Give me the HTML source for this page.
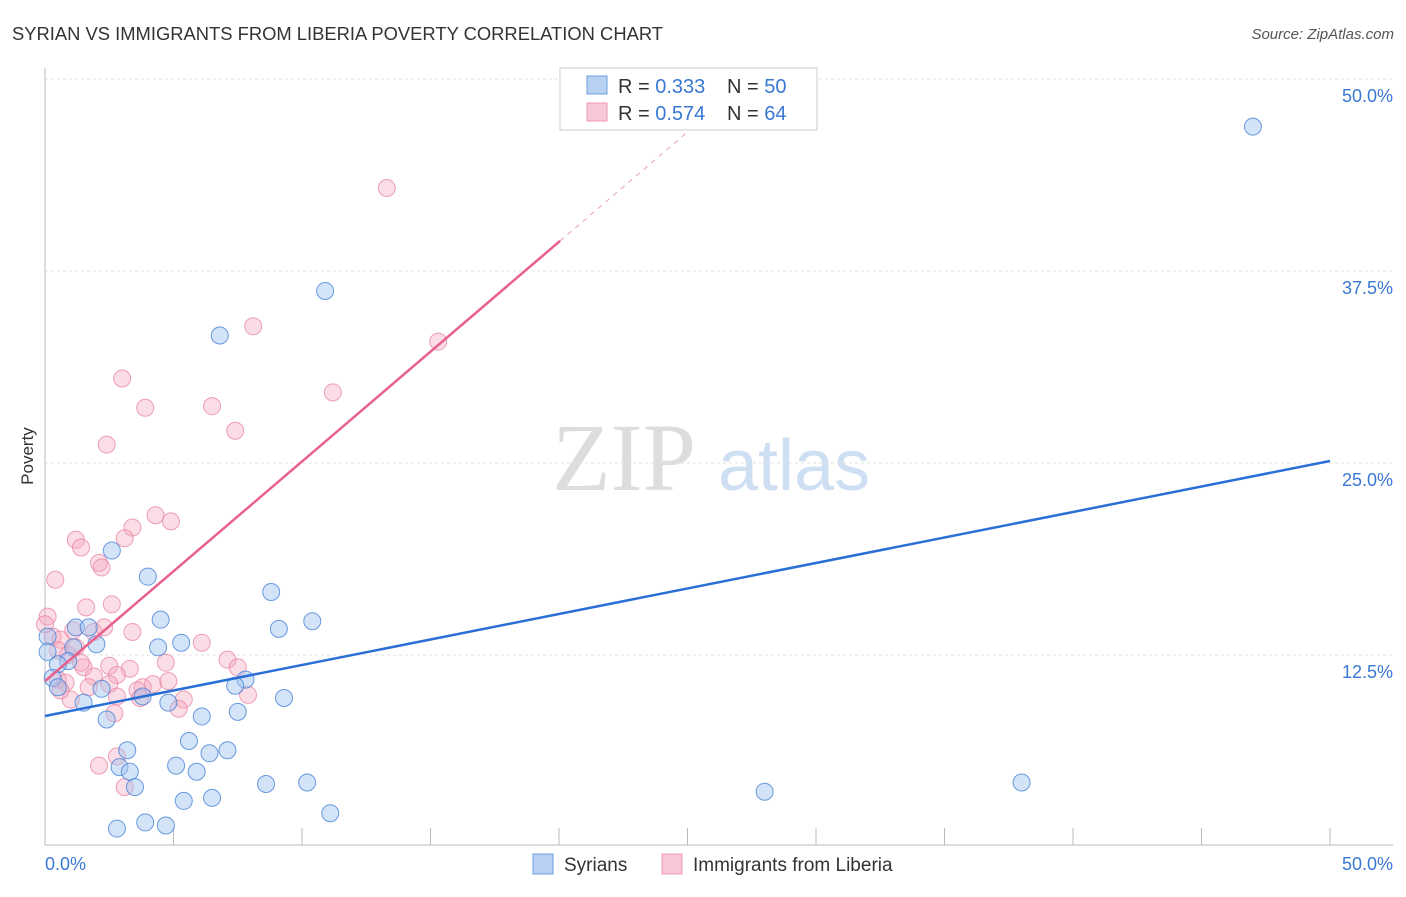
<!DOCTYPE html>
<html><head><meta charset="utf-8"><style>
body{margin:0;background:#fff;font-family:"Liberation Sans",sans-serif;}
</style></head><body>
<svg id="c" width="1406" height="892" xmlns="http://www.w3.org/2000/svg" style="font-family:'Liberation Sans',sans-serif">
<text x="12" y="40" font-size="18" fill="#333" textLength="651" lengthAdjust="spacingAndGlyphs">SYRIAN VS IMMIGRANTS FROM LIBERIA POVERTY CORRELATION CHART</text>
<text x="1394" y="39" font-size="15" fill="#555" font-style="italic" text-anchor="end">Source: ZipAtlas.com</text>
<text x="33" y="456" font-size="17" fill="#333" transform="rotate(-90 33 456)" text-anchor="middle">Poverty</text>
<g>
<text x="552" y="490" font-size="96" font-family="'Liberation Serif',serif" fill="#ddd">ZIP</text>
<text x="718" y="490" font-size="72" fill="#cfdff3">atlas</text>
</g>
<g id="grid"></g><g id="pts"></g><g id="lines"></g>
<g>
<rect x="560" y="68" width="257" height="62" fill="#fff" stroke="#ccc"/>
<rect x="587" y="76" width="20" height="18" fill="#b8d1f3" stroke="#6d9ee0"/>
<rect x="587" y="103" width="20" height="18" fill="#f9c8d6" stroke="#ec9ab4"/>
<text x="618" y="93" font-size="20" fill="#333">R = <tspan fill="#3a78d4">0.333</tspan></text>
<text x="727" y="93" font-size="20" fill="#333">N = <tspan fill="#3a78d4">50</tspan></text>
<text x="618" y="120" font-size="20" fill="#333">R = <tspan fill="#3a78d4">0.574</tspan></text>
<text x="727" y="120" font-size="20" fill="#333">N = <tspan fill="#3a78d4">64</tspan></text>
</g>
<g>
<rect x="533" y="854" width="20" height="20" fill="#b8d1f3" stroke="#6d9ee0"/>
<text x="564" y="871" font-size="19" fill="#333">Syrians</text>
<rect x="662" y="854" width="20" height="20" fill="#f9c8d6" stroke="#ec9ab4"/>
<text x="693" y="871" font-size="19" fill="#333">Immigrants from Liberia</text>
</g>
</svg>
<script>
const yTicks=[12.5,25,37.5,50];
const yTickLabels=["12.5%","25.0%","37.5%","50.0%"];
const xTickLabels=["0.0%","50.0%"];
const syrX=[47.0,10.9,6.8,2.6,4.0,8.8,4.5,10.4,9.1,1.2,1.7,5.3,2.0,4.4,1.1,0.9,0.5,7.8,7.4,0.3,0.5,2.2,3.8,9.3,4.8,1.5,7.5,6.1,2.4,5.6,3.2,7.1,6.4,2.9,3.3,5.1,5.9,3.5,8.6,10.2,38.0,28.0,5.4,6.5,11.1,3.9,4.7,2.8,0.1,0.1];
const syrY=[46.9,36.2,33.3,19.3,17.6,16.6,14.8,14.7,14.2,14.3,14.3,13.3,13.2,13.0,13.0,12.1,11.9,10.9,10.5,11.0,10.4,10.3,9.8,9.7,9.4,9.4,8.8,8.5,8.3,6.9,6.3,6.3,6.1,5.2,4.9,5.3,4.9,3.9,4.1,4.2,4.2,3.6,3.0,3.2,2.2,1.6,1.4,1.2,13.7,12.7];
const libX=[13.3,8.1,15.3,3.0,11.2,3.9,6.5,7.4,2.4,4.3,4.9,3.4,3.1,1.2,1.4,2.1,2.2,0.4,2.6,1.6,0.1,1.9,3.4,1.1,2.3,0.3,6.1,0.6,0.5,0.9,2.5,4.7,7.1,7.5,3.3,1.5,2.8,1.9,0.5,0.8,2.5,1.7,4.2,3.8,4.8,2.8,5.4,1.0,7.9,5.2,2.7,2.8,2.1,3.1,0.0,1.2,1.4,0.6,3.6,3.7];
const libY=[42.9,33.9,32.9,30.5,29.6,28.6,28.7,27.1,26.2,21.6,21.2,20.8,20.1,20.0,19.5,18.5,18.2,17.4,15.8,15.6,15.0,14.0,14.0,14.1,14.3,13.7,13.3,13.5,12.8,12.5,11.8,12.0,12.2,11.7,11.6,11.7,11.2,11.1,10.9,10.7,10.6,10.4,10.6,10.4,10.8,9.8,9.6,9.6,9.9,9.0,8.7,5.9,5.3,3.9,14.5,13.0,12.0,10.2,10.2,9.7];
const syrLine=[8.53,25.13];
const libLine=[10.8,1.43];
const X=v=>45+v*25.7, Y=v=>847-v*15.36;
const NS="http://www.w3.org/2000/svg";
function mk(t,a,p){const e=document.createElementNS(NS,t);for(const k in a)e.setAttribute(k,a[k]);p.appendChild(e);return e;}
const grid=document.getElementById('grid'),pts=document.getElementById('pts'),lines=document.getElementById('lines');
yTicks.forEach((t,i)=>{
 const l=mk('line',{x1:45,x2:1393,y1:Y(t),y2:Y(t),stroke:'#e2e2e2','stroke-dasharray':'3,3'},grid);
 
 
 const tx=mk('text',{x:1393,y:Y(t)+23,'font-size':18,fill:'#3a78d4','text-anchor':'end'},grid);
 tx.textContent=yTickLabels[i];
 
 
});
const ax=mk('line',{x1:45,x2:45,y1:68,y2:845,stroke:'#bbb'},grid);


const bx=mk('line',{x1:45,x2:1393,y1:845,y2:845,stroke:'#bbb'},grid);


for(let i=1;i<=10;i++){const t=mk('line',{x1:X(i*5),x2:X(i*5),y1:828,y2:845,stroke:'#bbb'},grid);
 
 }
[[0,'start',45],[50,'end',1393]].forEach((d,i)=>{const t=mk('text',{x:d[2],y:870,'font-size':18,fill:'#3a78d4','text-anchor':d[1]},grid);t.textContent=xTickLabels[i];
 
 });
libX.forEach((x,i)=>{const c=mk('circle',{cx:X(x),cy:Y(libY[i]),r:8.5,fill:'rgba(246,170,192,0.4)',stroke:'rgba(232,130,160,0.75)','stroke-width':1},pts);
 
 });
syrX.forEach((x,i)=>{const c=mk('circle',{cx:X(x),cy:Y(syrY[i]),r:8.5,fill:'rgba(160,196,240,0.45)',stroke:'rgba(70,130,215,0.8)','stroke-width':1},pts);
 
 });
const bl=mk('line',{x1:X(0),y1:Y(syrLine[0]),x2:X(50),y2:Y(syrLine[1]),stroke:'#2a6fd6','stroke-width':2.5},lines);


const xe=20.04, xd=(50-libLine[0])/libLine[1];
const pl=mk('line',{x1:X(0),y1:Y(libLine[0]),x2:X(xe),y2:Y(libLine[0]+libLine[1]*xe),stroke:'#e8608c','stroke-width':2.5},lines);


const pd=mk('line',{x1:X(xe),y1:Y(libLine[0]+libLine[1]*xe),x2:X(xd),y2:Y(50),stroke:'#eaa0b8','stroke-width':1,'stroke-dasharray':'5,5'},lines);


</script>
</body></html>
